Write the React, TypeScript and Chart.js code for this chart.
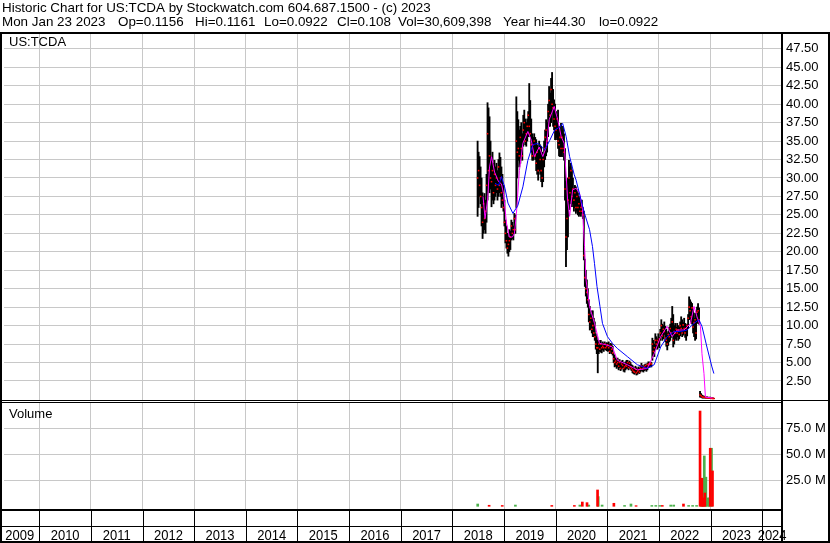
import React, { useEffect, useRef } from 'react';
import { Chart, registerables } from 'chart.js';

Chart.register(...registerables);

// ---------- texts ----------
const TITLE = 'Historic Chart for US:TCDA by Stockwatch.com 604.687.1500 - (c) 2023';
const SUBTITLE_FIELDS = ['Mon Jan 23 2023', 'Op=0.1156', 'Hi=0.1161', 'Lo=0.0922', 'Cl=0.108', 'Vol=30,609,398', 'Year hi=44.30', 'lo=0.0922'];
const SYMBOL = 'US:TCDA';
const VOLUME_LABEL = 'Volume';

// ---------- axes ----------
const YEARS = [2009, 2010, 2011, 2012, 2013, 2014, 2015, 2016, 2017, 2018, 2019, 2020, 2021, 2022, 2023, 2024];
const PRICE_TICKS = [2.5, 5, 7.5, 10, 12.5, 15, 17.5, 20, 22.5, 25, 27.5, 30, 32.5, 35, 37.5, 40, 42.5, 45, 47.5];
const VOLUME_TICKS = [25e6, 50e6, 75e6];
const X_MIN = 2009.316;
const X_MAX = 2024.383;
const P_MIN = -14.85;
const P_MAX = 49.51;
const V_MIN = -2.6e6;
const V_MAX = 454.1e6;

// ---------- weekly price bars (first week ~ late June 2018) ----------
const START = 2018.488;
const STEP = 1 / 52;
const HIGH = [
  35.0, 33.5, 32.9, 31.5, 30.0, 28.0, 27.5, 27.9, 27.0, 30.5,
  40.2, 39.5, 38.3, 35.0, 32.9, 33.5, 32.0, 32.4, 31.5, 32.0,
  31.0, 32.5, 33.4, 32.8, 31.5, 30.5, 29.0, 27.0, 24.3, 23.5,
  22.5, 22.0, 23.0, 22.8, 24.3, 24.0, 23.5, 25.2, 25.0, 41.0,
  39.0, 37.9, 36.5, 37.0, 37.5, 36.0, 38.5, 39.2, 38.0, 37.5,
  38.0, 39.0, 42.8, 40.5, 38.0, 36.0, 35.5, 36.0, 35.5, 35.2,
  34.5, 34.0, 35.0, 34.5, 34.3, 33.5, 33.0, 35.0, 36.5, 37.9,
  37.5, 40.0, 42.4, 41.5, 43.5, 44.3, 42.0, 40.6, 40.0, 39.0,
  38.5, 39.2, 37.0, 36.5, 37.4, 36.5, 37.0, 36.0, 34.0, 29.5,
  27.0, 30.0, 32.4, 31.5, 32.0, 31.1, 30.0, 28.5, 29.0, 28.8,
  28.4, 28.0, 27.5, 27.5, 27.0, 27.0, 26.0, 25.5, 19.0, 17.5,
  16.2, 15.0, 13.5, 12.6, 11.5, 12.0, 12.0, 11.0, 10.5, 8.9,
  8.5, 8.0, 8.0, 7.8, 8.0, 7.6, 7.8, 7.6, 7.8, 7.5,
  7.7, 7.6, 7.8, 7.4, 7.6, 7.5, 7.2, 6.2, 6.0, 5.6,
  5.5, 5.6, 5.2, 5.4, 5.0, 5.2, 5.3, 5.0, 4.8, 5.1,
  5.3, 5.3, 5.0, 5.2, 5.0, 4.7, 4.6, 4.4, 4.2, 4.5,
  4.3, 4.1, 4.4, 4.2, 4.5, 4.9, 4.6, 4.5, 4.7, 4.8,
  4.6, 4.9, 5.1, 5.0, 5.1, 5.0, 8.3, 8.0, 7.5, 8.9,
  8.5, 8.2, 8.9, 8.4, 9.5, 10.8, 10.2, 10.0, 10.5, 9.9,
  9.5, 9.0, 9.2, 9.8, 10.2, 11.0, 12.6, 11.5, 10.0, 10.3,
  9.8, 10.3, 10.0, 9.8, 10.5, 11.2, 10.8, 10.4, 11.0, 10.3,
  10.0, 10.2, 11.5, 13.9, 13.5, 13.2, 13.0, 12.2, 11.0, 11.7,
  11.0, 12.5, 13.0, 12.4, 1.1, 0.8, 0.6, 0.5, 0.45, 0.35,
  0.3, 0.35, 0.3, 0.25, 0.3, 0.25, 0.22, 0.2, 0.16,
];
const LOW = [
  24.8, 26.0, 27.5, 26.5, 23.5, 21.8, 22.5, 23.0, 22.5, 24.0,
  27.0, 29.0, 28.0, 28.5, 26.1, 27.0, 26.5, 27.0, 27.5, 28.0,
  27.0, 27.5, 28.0, 27.5, 26.0, 26.5, 25.5, 23.5, 21.2, 20.5,
  19.8, 19.4, 20.0, 20.3, 21.6, 21.8, 21.6, 22.5, 22.5, 26.0,
  30.0, 32.4, 31.5, 32.0, 33.0, 32.4, 34.3, 35.0, 34.5, 34.3,
  35.0, 35.6, 36.0, 35.6, 33.5, 32.4, 32.4, 33.0, 32.5, 31.0,
  30.5, 29.7, 31.0, 30.5, 29.5, 28.8, 29.5, 31.5, 32.5, 33.0,
  33.5, 35.6, 37.0, 37.0, 37.5, 39.0, 37.0, 36.5, 35.2, 35.5,
  35.2, 34.0, 33.0, 32.9, 33.0, 32.9, 33.5, 32.4, 27.0, 18.0,
  20.3, 22.0, 25.7, 26.5, 27.0, 26.1, 26.5, 25.5, 26.0, 25.2,
  25.5, 25.0, 24.8, 25.0, 24.8, 25.2, 24.5, 18.9, 15.3, 14.0,
  13.0, 12.5, 10.5, 9.4, 9.5, 9.0, 8.5, 8.5, 8.0, 6.8,
  6.2, 3.6, 6.2, 6.5, 6.4, 6.3, 6.7, 6.5, 6.8, 6.7,
  6.6, 6.5, 6.6, 6.2, 6.4, 6.2, 6.0, 5.0, 4.4, 4.5,
  4.2, 4.4, 4.0, 4.3, 3.9, 4.1, 4.3, 3.8, 3.7, 4.0,
  4.2, 4.2, 4.0, 4.3, 4.1, 3.9, 3.6, 3.5, 3.4, 3.6,
  3.3, 3.4, 3.6, 3.5, 3.7, 3.9, 3.8, 3.7, 3.9, 4.0,
  3.8, 4.0, 4.3, 4.4, 4.4, 4.4, 5.3, 6.0, 5.8, 6.7,
  7.0, 6.8, 7.2, 7.0, 8.0, 8.5, 8.0, 8.2, 8.8, 7.8,
  7.2, 6.7, 7.3, 7.8, 8.0, 8.4, 8.8, 7.1, 7.5, 8.2,
  8.0, 8.5, 8.0, 8.2, 8.6, 9.0, 8.5, 8.7, 9.2, 8.4,
  8.0, 8.6, 9.6, 10.8, 11.0, 10.5, 10.2, 9.0, 8.5, 8.0,
  8.2, 10.3, 10.5, 10.2, 0.3, 0.3, 0.2, 0.18, 0.2, 0.15,
  0.15, 0.18, 0.15, 0.12, 0.12, 0.1, 0.1, 0.09, 0.09,
];
const CLOSE = [
  30.0, 31.0, 29.0, 27.5, 26.0, 24.0, 26.5, 24.5, 25.5, 29.0,
  36.0, 31.0, 33.0, 30.0, 29.5, 31.0, 28.0, 30.5, 29.0, 30.0,
  28.5, 31.5, 29.0, 30.0, 28.0, 27.0, 26.0, 24.0, 22.5, 21.5,
  20.5, 21.0, 21.5, 22.0, 23.5, 22.5, 23.0, 24.5, 23.0, 35.0,
  33.5, 34.0, 33.0, 35.5, 34.0, 33.0, 36.5, 37.5, 35.0, 36.0,
  37.0, 38.5, 37.0, 36.0, 34.5, 33.0, 34.5, 35.0, 33.0, 32.0,
  33.5, 31.0, 34.0, 32.5, 31.0, 30.0, 32.5, 34.0, 35.5, 36.5,
  35.0, 39.0, 40.5, 38.5, 42.0, 40.0, 39.5, 38.0, 37.0, 36.5,
  38.0, 35.0, 34.5, 35.5, 34.0, 35.5, 34.0, 33.5, 28.5, 22.0,
  24.5, 27.0, 30.0, 28.0, 31.0, 27.5, 28.5, 27.0, 28.0, 26.0,
  27.5, 26.0, 26.5, 25.5, 26.0, 25.5, 25.0, 19.5, 16.5, 15.0,
  14.5, 13.5, 11.5, 10.5, 11.0, 9.5, 10.0, 9.0, 8.5, 7.5,
  7.0, 7.0, 7.5, 6.8, 7.5, 7.0, 7.2, 7.0, 7.5, 7.0,
  7.2, 7.4, 7.0, 6.5, 7.2, 6.8, 6.3, 5.5, 5.0, 5.2,
  4.8, 5.0, 4.5, 5.0, 4.2, 4.8, 4.6, 4.2, 4.4, 4.6,
  4.5, 5.0, 4.3, 4.9, 4.4, 4.2, 4.0, 3.8, 3.7, 4.1,
  3.6, 3.8, 4.0, 3.7, 4.2, 4.5, 4.1, 4.3, 4.4, 4.6,
  4.2, 4.7, 4.8, 4.7, 4.9, 4.8, 7.5, 6.5, 7.0, 8.0,
  7.5, 8.0, 7.8, 8.2, 9.0, 10.0, 8.6, 9.5, 9.2, 8.3,
  8.0, 7.5, 8.8, 8.5, 9.6, 9.0, 10.5, 8.0, 9.2, 9.0,
  9.5, 9.0, 9.4, 8.8, 10.0, 9.6, 9.0, 10.1, 9.6, 9.0,
  9.6, 10.0, 11.0, 12.5, 12.0, 11.2, 12.4, 9.8, 10.4, 10.8,
  9.0, 11.8, 12.0, 10.8, 0.6, 0.5, 0.35, 0.3, 0.3, 0.25,
  0.2, 0.25, 0.2, 0.18, 0.2, 0.15, 0.14, 0.12, 0.11,
];

// ---------- moving averages (magenta short, blue long) ----------
const MA_SHORT_DATES = [
  2018.594, 2018.632, 2018.681, 2018.719, 2018.758, 2018.816, 2018.893, 2018.950, 2018.989, 2019.047,
  2019.105, 2019.162, 2019.201, 2019.240, 2019.297, 2019.365, 2019.461, 2019.529, 2019.586, 2019.683,
  2019.750, 2019.818, 2019.875, 2019.972, 2020.039, 2020.107, 2020.164, 2020.232, 2020.270, 2020.328,
  2020.396, 2020.463, 2020.521, 2020.559, 2020.588, 2020.656, 2020.752, 2020.848, 2020.974, 2021.099,
  2021.195, 2021.388, 2021.581, 2021.773, 2021.908, 2022.033, 2022.159, 2022.255, 2022.351, 2022.486,
  2022.611, 2022.679, 2022.737, 2022.804, 2022.833, 2022.872, 2022.900, 2023.040,
];
const MA_SHORT = [
  27.5, 24.5, 27.0, 31.5, 32.9, 30.8, 29.5, 29.2, 27.9, 23.9,
  22.0, 22.0, 22.5, 25.2, 31.0, 34.7, 36.3, 35.1, 32.9, 34.2,
  32.9, 34.2, 37.9, 39.7, 37.9, 35.6, 34.7, 27.0, 24.8, 28.4,
  28.6, 27.9, 25.7, 20.7, 16.2, 12.6, 10.3, 7.6, 7.4, 7.1,
  5.3, 4.7, 4.0, 4.2, 6.2, 8.5, 9.9, 8.5, 9.4, 9.4,
  10.3, 12.6, 11.2, 9.9, 6.2, 3.5, 0.3, 0.2,
];
const MA_LONG_DATES = [
  2018.825, 2018.893, 2018.950, 2019.018, 2019.076, 2019.172, 2019.268, 2019.365, 2019.461, 2019.557,
  2019.654, 2019.789, 2019.885, 2019.981, 2020.078, 2020.135, 2020.203, 2020.270, 2020.357, 2020.396,
  2020.492, 2020.559, 2020.656, 2020.713, 2020.752, 2020.800, 2020.858, 2020.906, 2021.003, 2021.099,
  2021.195, 2021.388, 2021.581, 2021.773, 2021.908, 2022.033, 2022.159, 2022.293, 2022.419, 2022.544,
  2022.679, 2022.775, 2022.833, 2022.929, 2023.026, 2023.064,
];
const MA_LONG = [
  29.3, 29.0, 30.2, 28.6, 26.6, 25.2, 26.3, 28.8, 32.4, 34.5,
  34.7, 33.8, 35.1, 36.5, 36.9, 37.4, 35.6, 32.9, 30.5, 29.7,
  27.0, 25.2, 23.0, 20.7, 18.4, 15.3, 12.6, 10.3, 8.5, 7.6,
  6.9, 5.8, 4.7, 4.2, 4.7, 7.1, 8.5, 9.2, 9.2, 9.4,
  10.3, 10.8, 9.9, 7.1, 4.4, 3.5,
];

// ---------- volume (up days green, down days red) ----------
const VOL_UP_DATES = [
  2018.490, 2019.220, 2020.468, 2020.641, 2020.824, 2020.899, 2021.334, 2021.458, 2021.862, 2021.939,
  2022.016, 2022.228, 2022.286, 2022.575, 2022.652, 2022.729, 2022.825, 2022.845, 2022.878, 2022.909,
  2022.941, 2022.970, 2023.018,
];
const VOL_UP = [
  2.2e6, 1.2e6, 1.2e6, 1.2e6, 9.3e6, 1.2e6, 0.8e6, 2.2e6, 0.8e6, 0.8e6,
  0.8e6, 1.2e6, 1.2e6, 0.8e6, 0.8e6, 0.8e6, 19.5e6, 18e6, 48.4e6, 28e6,
  8e6, 8e6, 55.8e6,
];
const VOL_DOWN_DATES = [
  2018.711, 2018.965, 2019.925, 2020.362, 2020.516, 2020.607, 2020.811, 2021.127, 2021.557, 2022.065,
  2022.475, 2022.796, 2022.831, 2022.858, 2022.889, 2022.993, 2023.037,
];
const VOL_DOWN = [
  1.0e6, 0.8e6, 0.8e6, 0.8e6, 4.1e6, 3.5e6, 15.7e6, 2.9e6, 0.6e6, 0.8e6,
  2.2e6, 91.6e6, 27e6, 8e6, 12.8e6, 55.8e6, 34e6,
];

const FONT = '"Liberation Sans", Arial, sans-serif';
const GRID = '#c8c8c8';
const SUB_X = [2, 118, 195, 264, 337, 398, 503, 599];

const framePlugin = {
  id: 'stockFrame',
  afterDraw(chart: any) {
    const ctx: CanvasRenderingContext2D = chart.ctx;
    const xs = chart.scales.x;
    const yP = chart.scales.yP;
    const yV = chart.scales.yV;
    const a = chart.chartArea;
    const W = chart.width;
    const H = chart.height;
    const pBottom = 400;
    const vTop = 403;
    const vBottom = 509;
    const bandBottom = 526;
    const labelBottom = 541;
    ctx.save();
    ctx.fillStyle = '#fff';
    ctx.fillRect(0, pBottom, a.right, vTop - pBottom);
    ctx.fillRect(0, vBottom, W, H - vBottom);
    ctx.fillStyle = '#000';
    // header text
    ctx.font = '13.4px ' + FONT;
    ctx.textBaseline = 'alphabetic';
    ctx.textAlign = 'left';
    ctx.fillText(TITLE, 2, 12);
    SUBTITLE_FIELDS.forEach((t, i) => ctx.fillText(t, SUB_X[i], 26));
    // frames
    ctx.fillRect(0, 32, W, 2);
    ctx.fillRect(0, 32, 2, H - 32);
    ctx.fillRect(W - 2, 32, 2, H - 32);
    ctx.fillRect(0, H - 2, W, 2);
    ctx.fillRect(a.right - 1, 32, 2, H - 32);
    ctx.fillRect(0, pBottom, a.right, 1);
    ctx.fillRect(0, pBottom + 2, a.right, 1);
    ctx.fillRect(a.right, pBottom, W - a.right, 1);
    ctx.fillRect(0, vBottom, a.right, 2);
    ctx.fillRect(0, bandBottom, a.right, 1);
    // year separators and labels
    const bounds = YEARS.map((y) => xs.getPixelForValue(y));
    bounds.forEach((px: number) => {
      if (px > 1 && px < a.right - 1) ctx.fillRect(Math.round(px), vBottom + 2, 1, labelBottom - vBottom - 2);
    });
    ctx.font = '13px ' + FONT;
    ctx.textAlign = 'center';
    YEARS.forEach((y, i) => {
      const l = Math.max(0, bounds[i]);
      const r = Math.min(a.right, xs.getPixelForValue(y + 1));
      if (r <= l) return;
      ctx.save();
      ctx.translate((l + r) / 2, 540);
      ctx.scale(1, 1.15);
      ctx.fillText(String(y), 0, 0);
      ctx.restore();
    });
    // panel captions
    ctx.textAlign = 'left';
    ctx.font = '13px ' + FONT;
    ctx.fillText(SYMBOL, 9, 46);
    ctx.fillText(VOLUME_LABEL, 9, 418);
    // right axis labels
    ctx.font = '13px ' + FONT;
    ctx.textBaseline = 'middle';
    PRICE_TICKS.forEach((v) => {
      ctx.fillText(v.toFixed(2), 786, yP.getPixelForValue(v));
    });
    VOLUME_TICKS.forEach((v) => {
      ctx.fillText((v / 1e6).toFixed(1) + ' M', 786, yV.getPixelForValue(v));
    });
    ctx.restore();
  },
};

export default function App() {
  const ref = useRef<HTMLCanvasElement | null>(null);
  useEffect(() => {
    const canvas = ref.current;
    if (!canvas) return;
    const bars = HIGH.map((h, i) => ({ x: START + i * STEP, y: [LOW[i], h] }));
    const closes = CLOSE.map((c, i) => ({ x: START + i * STEP, y: c }));
    const maShort = MA_SHORT.map((v, i) => ({ x: MA_SHORT_DATES[i], y: v }));
    const maLong = MA_LONG.map((v, i) => ({ x: MA_LONG_DATES[i], y: v }));
    const volUp = VOL_UP.map((v, i) => ({ x: VOL_UP_DATES[i], y: v }));
    const volDown = VOL_DOWN.map((v, i) => ({ x: VOL_DOWN_DATES[i], y: v }));
    const zeroW = (s: any) => { s.width = 0; };
    const zeroH = (s: any) => { s.height = 0; };
    const chart = new Chart(canvas, {
      type: 'bar',
      data: {
        datasets: [
          { type: 'line', label: 'MA long', data: maLong as any, yAxisID: 'yP', borderColor: '#0000ff', borderWidth: 1, pointRadius: 0, tension: 0, order: 1 },
          { type: 'line', label: 'MA short', data: maShort as any, yAxisID: 'yP', borderColor: '#ff00ff', borderWidth: 1, pointRadius: 0, tension: 0, order: 2 },
          { type: 'line', label: 'Close', data: closes as any, yAxisID: 'yP', showLine: false, pointStyle: 'rect', pointRadius: 1.1, pointBackgroundColor: '#ff0000', pointBorderWidth: 0, order: 3 },
          { type: 'bar', label: 'Range', data: bars as any, yAxisID: 'yP', backgroundColor: '#000000', barThickness: 1.2, grouped: false, order: 4 },
          { type: 'bar', label: 'Vol up', data: volUp as any, yAxisID: 'yV', backgroundColor: '#4cb04c', barThickness: 2, grouped: false, order: 6 },
          { type: 'bar', label: 'Vol down', data: volDown as any, yAxisID: 'yV', backgroundColor: '#ff0000', barThickness: 2, grouped: false, order: 5 },
        ],
      },
      options: {
        animation: false,
        responsive: false,
        maintainAspectRatio: false,
        devicePixelRatio: 1,
        events: [],
        layout: { padding: { left: 0, top: 34, right: 48, bottom: 34 } },
        plugins: { legend: { display: false }, tooltip: { enabled: false } },
        scales: {
          x: {
            type: 'linear', position: 'bottom', min: X_MIN, max: X_MAX, offset: false,
            afterBuildTicks: (s: any) => { s.ticks = YEARS.filter((y) => y > X_MIN && y < X_MAX).map((y) => ({ value: y })); },
            afterFit: zeroH,
            ticks: { display: false },
            grid: { color: GRID, lineWidth: 1, drawTicks: false, offset: false },
            border: { display: false },
          },
          yP: {
            type: 'linear', position: 'right', min: P_MIN, max: P_MAX,
            afterBuildTicks: (s: any) => { s.ticks = PRICE_TICKS.map((v) => ({ value: v })); },
            afterFit: zeroW,
            ticks: { display: false },
            grid: { color: GRID, lineWidth: 1, drawTicks: false },
            border: { display: false },
          },
          yV: {
            type: 'linear', position: 'right', min: V_MIN, max: V_MAX,
            afterBuildTicks: (s: any) => { s.ticks = VOLUME_TICKS.map((v) => ({ value: v })); },
            afterFit: zeroW,
            ticks: { display: false },
            grid: { color: GRID, lineWidth: 1, drawTicks: false },
            border: { display: false },
          },
        },
      } as any,
      plugins: [framePlugin],
    });
    return () => chart.destroy();
  }, []);
  return (
    <div style={{ position: 'absolute', left: 0, top: 0, width: 830, height: 543, background: '#fff' }}>
      <canvas ref={ref} width={830} height={543} style={{ display: 'block', width: 830, height: 543 }} />
    </div>
  );
}
